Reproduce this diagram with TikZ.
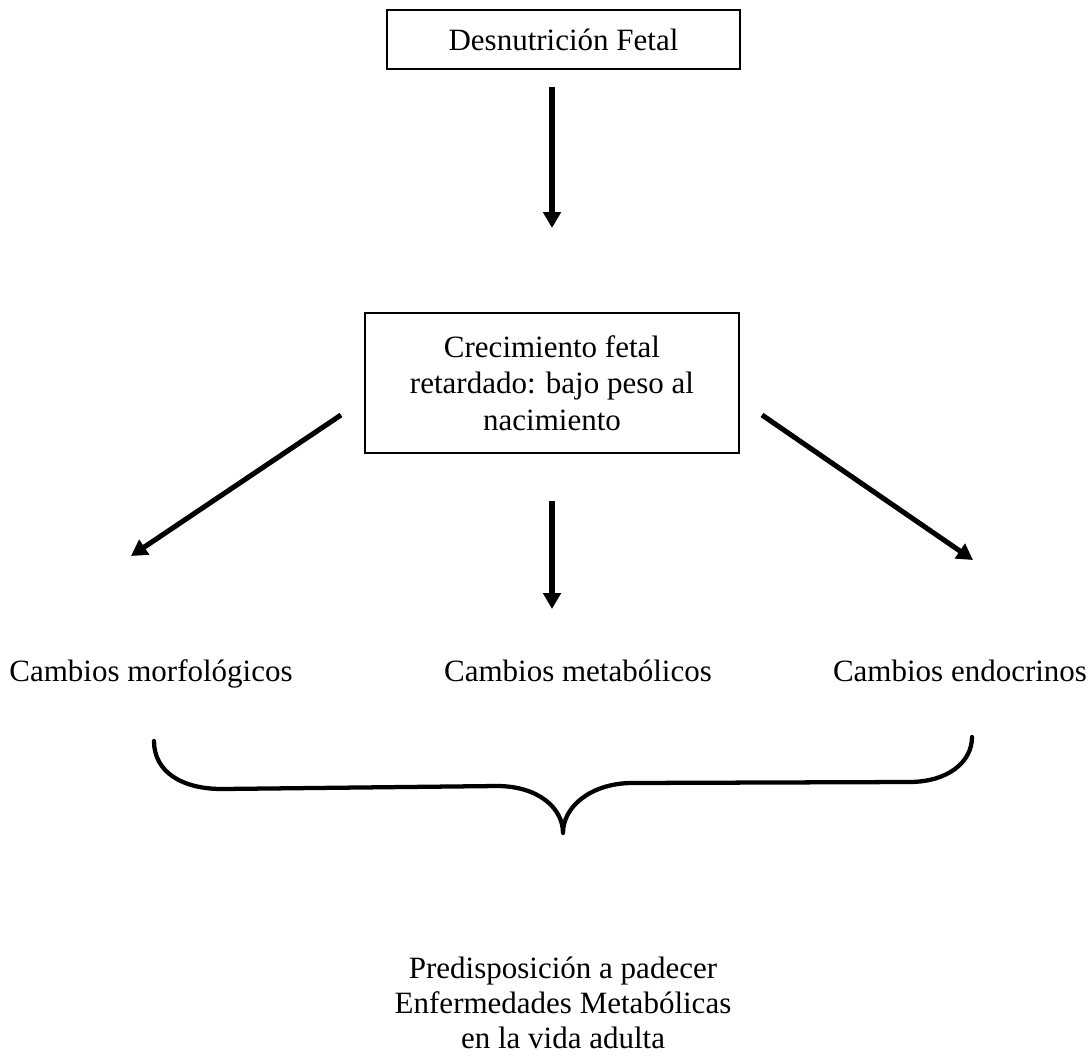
\documentclass[tikz,border=0pt]{standalone}
\usepackage{fontspec}
\setmainfont{Liberation Serif}
\usetikzlibrary{arrows.meta}
\begin{document}
\begin{tikzpicture}[x=0.75pt,y=-0.75pt,
  txt/.style={font=\fontsize{23.25pt}{27.5pt}\selectfont, inner sep=0pt, align=center},
  boxed/.style={txt, draw, line width=1.1pt},
  arr/.style={line width=3.8pt, -{Triangle[width=13pt,length=12pt]}},
  brace/.style={line width=3.2pt, line cap=round, line join=round}]
\useasboundingbox (0,0) rectangle (1091,1056);
\node[boxed, minimum width=264.75pt, minimum height=44.25pt] (b1) at (563.5,39.5) {Desnutrición Fetal};
\node[boxed, minimum width=280.5pt, minimum height=105pt] (b2) at (552,383) {Crecimiento fetal\\retardado: bajo peso al\\nacimiento};
\node[txt, anchor=base] (c1) at (151,681) {Cambios morfológicos};
\node[txt, anchor=base] (c2) at (578,681) {Cambios metabólicos};
\node[txt, anchor=base] (c3) at (960,681) {Cambios endocrinos};
\node[txt, font=\fontsize{23.25pt}{26.5pt}\selectfont] (p) at (563,1003) {Predisposición a padecer\\Enfermedades Metabólicas\\en la vida adulta};
% connector end points
\coordinate (a1s) at (552,87);  \coordinate (a1e) at (552,228);
\coordinate (als) at (341,415); \coordinate (ale) at (131,556);
\coordinate (ams) at (552,501); \coordinate (ame) at (552,609);
\coordinate (ars) at (762,415); \coordinate (are) at (973,560);
\draw[arr] (a1s) -- (a1e);
\draw[arr] (als) -- (ale);
\draw[arr] (ams) -- (ame);
\draw[arr] (ars) -- (are);
% brace
\coordinate (bl) at (154,741);
\coordinate (bc) at (563,833);
\coordinate (br) at (972,737);
\draw[brace] (bl) .. controls (154,772) and (182,789) .. (222,789) -- (497,786)
  .. controls (538,786) and (563,808) .. (bc)
  .. controls (563,807) and (590,784) .. (630,783) -- (909,782)
  .. controls (948,782) and (972,762) .. (br);
\end{tikzpicture}
\end{document}
